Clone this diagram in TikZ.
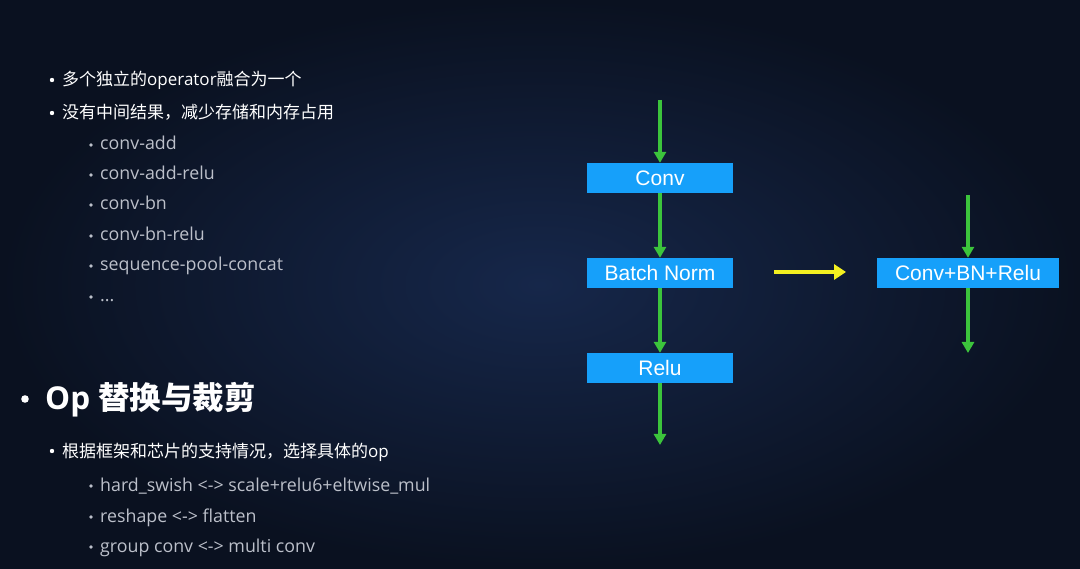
\documentclass[tikz,border=0pt]{standalone}
\usepackage{fontspec}
\setmainfont{Open Sans}
\newfontfamily\cjk{Noto Sans CJK SC}
\newfontfamily\boxfont{Liberation Sans}
\usetikzlibrary{arrows.meta}
\definecolor{slidemid}{RGB}{22,39,74}
\definecolor{slideedge}{RGB}{10,17,32}
\definecolor{opblue}{RGB}{22,160,250}
\definecolor{flowgreen}{RGB}{60,196,60}
\definecolor{fuseyellow}{RGB}{244,240,32}
\definecolor{subgray}{RGB}{188,192,202}
\tikzset{
  opbox/.style={fill=opblue, minimum width=146pt, minimum height=30pt, inner sep=0pt,
    text=white, font=\boxfont\fontsize{21}{21}\selectfont},
  flow/.style={draw=flowgreen, line width=3.4pt, -{Triangle[width=12pt,length=11pt]}},
  fuse/.style={draw=fuseyellow, line width=4pt, -{Triangle[width=15pt,length=12pt]}},
  item/.style={anchor=base west, inner sep=0pt, text=white, font=\fontsize{17}{17}\selectfont},
  subitem/.style={anchor=base west, inner sep=0pt, text=subgray, font=\fontsize{17.8}{17.8}\selectfont},
}
\begin{document}
\begin{tikzpicture}[x=1pt,y=-1pt]
% Hintergrund
\useasboundingbox (0,0) rectangle (1080,569);
\shade[inner color=slidemid, outer color=slideedge] (0,0) rectangle (1080,569);
% Fusion: Aufzaehlung
\fill[white] (52,80) circle (2.2pt);
\node[item] (fuse1) at (62,86) {{\cjk 多个独立的}operator{\cjk 融合为一个}};
\fill[white] (52,113) circle (2.2pt);
\node[item] (fuse2) at (62,119) {\cjk 没有中间结果，减少存储和内存占用};
\fill[subgray] (91,145) circle (1.8pt);
\node[subitem] (convadd) at (100,150) {conv-add};
\fill[subgray] (91,175) circle (1.8pt);
\node[subitem] (convaddrelu) at (100,180) {conv-add-relu};
\fill[subgray] (91,205) circle (1.8pt);
\node[subitem] (convbn) at (100,210) {conv-bn};
\fill[subgray] (91,236) circle (1.8pt);
\node[subitem] (convbnrelu) at (100,241) {conv-bn-relu};
\fill[subgray] (91,266) circle (1.8pt);
\node[subitem] (seqpool) at (100,271) {sequence-pool-concat};
\fill[subgray] (91,297) circle (1.8pt);
\node[subitem] (more) at (100,302) {...};
% Op ersetzen und beschneiden
\fill[white] (25,399) circle (3.8pt);
\node[item, font=\bfseries\fontsize{31.5}{31.5}\selectfont] (replace) at (45,410) {Op {\cjk\bfseries 替换与裁剪}};
\fill[white] (52,451) circle (2.2pt);
\node[item] (choose) at (62,457) {{\cjk 根据框架和芯片的支持情况，选择具体的}op};
\fill[subgray] (91,486) circle (1.8pt);
\node[subitem] (hardswish) at (100,491) {hard\_swish <-> scale+relu6+eltwise\_mul};
\fill[subgray] (91,517) circle (1.8pt);
\node[subitem] (reshape) at (100,522) {reshape <-> flatten};
\fill[subgray] (91,547) circle (1.8pt);
\node[subitem] (groupconv) at (100,552) {group conv <-> multi conv};
% Graph vor der Fusion
\coordinate (in) at (660,100);
\node[opbox] (conv) at (660,178) {Conv};
\node[opbox] (bn) at (660,273) {Batch Norm};
\node[opbox] (relu) at (660,368) {Relu};
\coordinate (out) at (660,445);
\draw[flow] (in) -- (conv);
\draw[flow] (conv) -- (bn);
\draw[flow] (bn) -- (relu);
\draw[flow] (relu) -- (out);
% Pfeil
\coordinate (fusefrom) at (774,272);
\coordinate (fuseto) at (846,272);
\draw[fuse] (fusefrom) -- (fuseto);
% Graph nach der Fusion
\coordinate (fin) at (968,195);
\node[opbox, minimum width=182pt] (cbr) at (968,273) {Conv+BN+Relu};
\coordinate (fout) at (968,353);
\draw[flow] (fin) -- (cbr);
\draw[flow] (cbr) -- (fout);
\end{tikzpicture}
\end{document}
